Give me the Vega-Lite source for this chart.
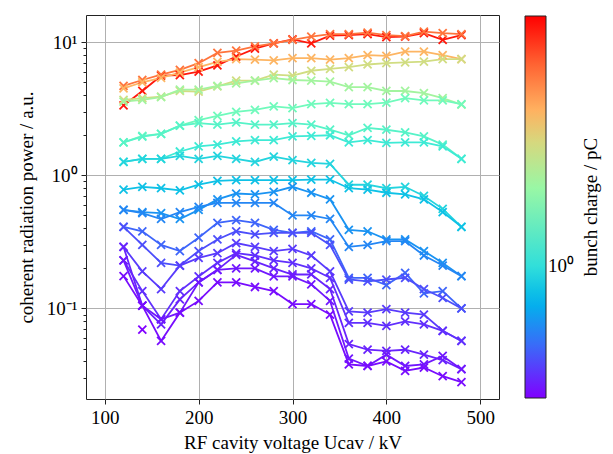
{
"$schema":"https://vega.github.io/schema/vega-lite/v6.json",
"autosize":"none",
"padding":{"left":86,"top":15,"right":114,"bottom":55},
"width":413,"height":384,
"background":"white",
"datasets":{"d":[
{"s":"S1","q":8.3,"x":120,"y":3.35},{"s":"S1","q":8.3,"x":140,"y":4.3},{"s":"S1","q":8.3,"x":160,"y":5.6},{"s":"S1","q":8.3,"x":180,"y":5.65},{"s":"S1","q":8.3,"x":200,"y":6.0},{"s":"S1","q":8.3,"x":220,"y":6.7},{"s":"S1","q":8.3,"x":240,"y":7.8},{"s":"S1","q":8.3,"x":260,"y":8.95},{"s":"S1","q":8.3,"x":280,"y":9.8},{"s":"S1","q":8.3,"x":300,"y":10.5},{"s":"S1","q":8.3,"x":320,"y":9.8},{"s":"S1","q":8.3,"x":340,"y":11.2},{"s":"S1","q":8.3,"x":360,"y":11.3},{"s":"S1","q":8.3,"x":380,"y":11.5},{"s":"S1","q":8.3,"x":400,"y":10.9},{"s":"S1","q":8.3,"x":420,"y":11.0},{"s":"S1","q":8.3,"x":440,"y":11.7},{"s":"S1","q":8.3,"x":460,"y":10.4},{"s":"S1","q":8.3,"x":480,"y":11.3},
{"s":"S2","q":5.5,"x":120,"y":4.7},{"s":"S2","q":5.5,"x":140,"y":5.2},{"s":"S2","q":5.5,"x":160,"y":5.7},{"s":"S2","q":5.5,"x":180,"y":6.2},{"s":"S2","q":5.5,"x":200,"y":6.95},{"s":"S2","q":5.5,"x":220,"y":8.3},{"s":"S2","q":5.5,"x":240,"y":8.65},{"s":"S2","q":5.5,"x":260,"y":9.3},{"s":"S2","q":5.5,"x":280,"y":9.8},{"s":"S2","q":5.5,"x":300,"y":10.4},{"s":"S2","q":5.5,"x":320,"y":11.0},{"s":"S2","q":5.5,"x":340,"y":11.5},{"s":"S2","q":5.5,"x":360,"y":11.5},{"s":"S2","q":5.5,"x":380,"y":11.8},{"s":"S2","q":5.5,"x":400,"y":11.3},{"s":"S2","q":5.5,"x":420,"y":11.1},{"s":"S2","q":5.5,"x":440,"y":12.0},{"s":"S2","q":5.5,"x":460,"y":11.7},{"s":"S2","q":5.5,"x":480,"y":11.5},
{"s":"S3","q":3.9,"x":120,"y":4.5},{"s":"S3","q":3.9,"x":140,"y":5.0},{"s":"S3","q":3.9,"x":160,"y":5.4},{"s":"S3","q":3.9,"x":180,"y":5.9},{"s":"S3","q":3.9,"x":200,"y":6.5},{"s":"S3","q":3.9,"x":220,"y":7.1},{"s":"S3","q":3.9,"x":240,"y":7.45},{"s":"S3","q":3.9,"x":260,"y":7.4},{"s":"S3","q":3.9,"x":280,"y":7.3},{"s":"S3","q":3.9,"x":300,"y":7.6},{"s":"S3","q":3.9,"x":320,"y":7.6},{"s":"S3","q":3.9,"x":340,"y":7.4},{"s":"S3","q":3.9,"x":360,"y":7.6},{"s":"S3","q":3.9,"x":380,"y":8.0},{"s":"S3","q":3.9,"x":400,"y":7.9},{"s":"S3","q":3.9,"x":420,"y":8.5},{"s":"S3","q":3.9,"x":440,"y":8.5},{"s":"S3","q":3.9,"x":460,"y":8.0},{"s":"S3","q":3.9,"x":480,"y":7.45},
{"s":"S4","q":2.9,"x":120,"y":3.69},{"s":"S4","q":2.9,"x":140,"y":3.8},{"s":"S4","q":2.9,"x":160,"y":3.9},{"s":"S4","q":2.9,"x":180,"y":4.3},{"s":"S4","q":2.9,"x":200,"y":4.25},{"s":"S4","q":2.9,"x":220,"y":4.65},{"s":"S4","q":2.9,"x":240,"y":5.15},{"s":"S4","q":2.9,"x":260,"y":5.15},{"s":"S4","q":2.9,"x":280,"y":5.7},{"s":"S4","q":2.9,"x":300,"y":5.6},{"s":"S4","q":2.9,"x":320,"y":6.1},{"s":"S4","q":2.9,"x":340,"y":6.3},{"s":"S4","q":2.9,"x":360,"y":6.5},{"s":"S4","q":2.9,"x":380,"y":6.8},{"s":"S4","q":2.9,"x":400,"y":6.95},{"s":"S4","q":2.9,"x":420,"y":7.05},{"s":"S4","q":2.9,"x":440,"y":7.15},{"s":"S4","q":2.9,"x":460,"y":7.45},{"s":"S4","q":2.9,"x":480,"y":7.45},
{"s":"S5","q":2.14,"x":120,"y":3.58},{"s":"S5","q":2.14,"x":140,"y":3.69},{"s":"S5","q":2.14,"x":160,"y":3.87},{"s":"S5","q":2.14,"x":180,"y":4.4},{"s":"S5","q":2.14,"x":200,"y":4.4},{"s":"S5","q":2.14,"x":220,"y":4.7},{"s":"S5","q":2.14,"x":240,"y":4.9},{"s":"S5","q":2.14,"x":260,"y":5.15},{"s":"S5","q":2.14,"x":280,"y":5.37},{"s":"S5","q":2.14,"x":300,"y":5.2},{"s":"S5","q":2.14,"x":320,"y":5.15},{"s":"S5","q":2.14,"x":340,"y":5.05},{"s":"S5","q":2.14,"x":360,"y":4.6},{"s":"S5","q":2.14,"x":380,"y":4.6},{"s":"S5","q":2.14,"x":400,"y":4.3},{"s":"S5","q":2.14,"x":420,"y":4.3},{"s":"S5","q":2.14,"x":440,"y":4.15},{"s":"S5","q":2.14,"x":460,"y":3.8},{"s":"S5","q":2.14,"x":480,"y":3.4},
{"s":"S6","q":1.52,"x":120,"y":1.77},{"s":"S6","q":1.52,"x":140,"y":1.98},{"s":"S6","q":1.52,"x":160,"y":2.05},{"s":"S6","q":1.52,"x":180,"y":2.36},{"s":"S6","q":1.52,"x":200,"y":2.6},{"s":"S6","q":1.52,"x":220,"y":2.8},{"s":"S6","q":1.52,"x":240,"y":3.0},{"s":"S6","q":1.52,"x":260,"y":3.1},{"s":"S6","q":1.52,"x":280,"y":3.3},{"s":"S6","q":1.52,"x":300,"y":3.2},{"s":"S6","q":1.52,"x":320,"y":3.43},{"s":"S6","q":1.52,"x":340,"y":3.5},{"s":"S6","q":1.52,"x":360,"y":3.43},{"s":"S6","q":1.52,"x":380,"y":3.43},{"s":"S6","q":1.52,"x":400,"y":3.52},{"s":"S6","q":1.52,"x":420,"y":3.8},{"s":"S6","q":1.52,"x":440,"y":3.65},{"s":"S6","q":1.52,"x":460,"y":3.65},{"s":"S6","q":1.52,"x":480,"y":3.43},
{"s":"S7","q":1.29,"x":120,"y":1.77},{"s":"S7","q":1.29,"x":140,"y":1.95},{"s":"S7","q":1.29,"x":160,"y":2.05},{"s":"S7","q":1.29,"x":180,"y":2.36},{"s":"S7","q":1.29,"x":200,"y":2.47},{"s":"S7","q":1.29,"x":220,"y":2.4},{"s":"S7","q":1.29,"x":240,"y":2.5},{"s":"S7","q":1.29,"x":260,"y":2.4},{"s":"S7","q":1.29,"x":280,"y":2.4},{"s":"S7","q":1.29,"x":300,"y":2.47},{"s":"S7","q":1.29,"x":320,"y":2.4},{"s":"S7","q":1.29,"x":340,"y":2.2},{"s":"S7","q":1.29,"x":360,"y":2.0},{"s":"S7","q":1.29,"x":380,"y":2.27},{"s":"S7","q":1.29,"x":400,"y":2.2},{"s":"S7","q":1.29,"x":420,"y":2.1},{"s":"S7","q":1.29,"x":440,"y":1.96},{"s":"S7","q":1.29,"x":460,"y":1.7},{"s":"S7","q":1.29,"x":480,"y":1.33},
{"s":"S8","q":1.09,"x":120,"y":1.26},{"s":"S8","q":1.09,"x":140,"y":1.33},{"s":"S8","q":1.09,"x":160,"y":1.33},{"s":"S8","q":1.09,"x":180,"y":1.51},{"s":"S8","q":1.09,"x":200,"y":1.65},{"s":"S8","q":1.09,"x":220,"y":1.7},{"s":"S8","q":1.09,"x":240,"y":1.8},{"s":"S8","q":1.09,"x":260,"y":1.84},{"s":"S8","q":1.09,"x":280,"y":1.84},{"s":"S8","q":1.09,"x":300,"y":1.96},{"s":"S8","q":1.09,"x":320,"y":1.98},{"s":"S8","q":1.09,"x":340,"y":2.0},{"s":"S8","q":1.09,"x":360,"y":1.77},{"s":"S8","q":1.09,"x":380,"y":1.84},{"s":"S8","q":1.09,"x":400,"y":1.75},{"s":"S8","q":1.09,"x":420,"y":1.77},{"s":"S8","q":1.09,"x":440,"y":1.77},{"s":"S8","q":1.09,"x":460,"y":1.65},{"s":"S8","q":1.09,"x":480,"y":1.33},
{"s":"S9","q":0.92,"x":120,"y":1.26},{"s":"S9","q":0.92,"x":140,"y":1.33},{"s":"S9","q":0.92,"x":160,"y":1.33},{"s":"S9","q":0.92,"x":180,"y":1.4},{"s":"S9","q":0.92,"x":200,"y":1.33},{"s":"S9","q":0.92,"x":220,"y":1.4},{"s":"S9","q":0.92,"x":240,"y":1.33},{"s":"S9","q":0.92,"x":260,"y":1.26},{"s":"S9","q":0.92,"x":280,"y":1.38},{"s":"S9","q":0.92,"x":300,"y":1.3},{"s":"S9","q":0.92,"x":320,"y":1.24},{"s":"S9","q":0.92,"x":340,"y":1.22},{"s":"S9","q":0.92,"x":360,"y":0.85},{"s":"S9","q":0.92,"x":380,"y":0.85},{"s":"S9","q":0.92,"x":400,"y":0.8},{"s":"S9","q":0.92,"x":420,"y":0.82},{"s":"S9","q":0.92,"x":440,"y":0.7},{"s":"S9","q":0.92,"x":460,"y":0.56},{"s":"S9","q":0.92,"x":480,"y":0.41},
{"s":"S10","q":0.8,"x":120,"y":0.78},{"s":"S10","q":0.8,"x":140,"y":0.82},{"s":"S10","q":0.8,"x":160,"y":0.8},{"s":"S10","q":0.8,"x":180,"y":0.77},{"s":"S10","q":0.8,"x":200,"y":0.85},{"s":"S10","q":0.8,"x":220,"y":0.91},{"s":"S10","q":0.8,"x":240,"y":0.92},{"s":"S10","q":0.8,"x":260,"y":0.92},{"s":"S10","q":0.8,"x":280,"y":0.92},{"s":"S10","q":0.8,"x":300,"y":0.92},{"s":"S10","q":0.8,"x":320,"y":0.93},{"s":"S10","q":0.8,"x":340,"y":0.93},{"s":"S10","q":0.8,"x":360,"y":0.8},{"s":"S10","q":0.8,"x":380,"y":0.78},{"s":"S10","q":0.8,"x":400,"y":0.74},{"s":"S10","q":0.8,"x":420,"y":0.72},{"s":"S10","q":0.8,"x":440,"y":0.66},{"s":"S10","q":0.8,"x":460,"y":0.53},{"s":"S10","q":0.8,"x":480,"y":0.41},
{"s":"S11","q":0.61,"x":120,"y":0.55},{"s":"S11","q":0.61,"x":140,"y":0.53},{"s":"S11","q":0.61,"x":160,"y":0.52},{"s":"S11","q":0.61,"x":180,"y":0.47},{"s":"S11","q":0.61,"x":200,"y":0.55},{"s":"S11","q":0.61,"x":220,"y":0.66},{"s":"S11","q":0.61,"x":240,"y":0.73},{"s":"S11","q":0.61,"x":260,"y":0.72},{"s":"S11","q":0.61,"x":280,"y":0.75},{"s":"S11","q":0.61,"x":300,"y":0.82},{"s":"S11","q":0.61,"x":320,"y":0.74},{"s":"S11","q":0.61,"x":340,"y":0.66},{"s":"S11","q":0.61,"x":360,"y":0.39},{"s":"S11","q":0.61,"x":380,"y":0.38},{"s":"S11","q":0.61,"x":400,"y":0.33},{"s":"S11","q":0.61,"x":420,"y":0.33},{"s":"S11","q":0.61,"x":440,"y":0.27},{"s":"S11","q":0.61,"x":460,"y":0.22},{"s":"S11","q":0.61,"x":480,"y":0.175},
{"s":"S12","q":0.57,"x":120,"y":0.55},{"s":"S12","q":0.57,"x":140,"y":0.52},{"s":"S12","q":0.57,"x":160,"y":0.47},{"s":"S12","q":0.57,"x":180,"y":0.53},{"s":"S12","q":0.57,"x":200,"y":0.58},{"s":"S12","q":0.57,"x":220,"y":0.62},{"s":"S12","q":0.57,"x":240,"y":0.62},{"s":"S12","q":0.57,"x":260,"y":0.62},{"s":"S12","q":0.57,"x":280,"y":0.62},{"s":"S12","q":0.57,"x":300,"y":0.5},{"s":"S12","q":0.57,"x":320,"y":0.5},{"s":"S12","q":0.57,"x":340,"y":0.47},{"s":"S12","q":0.57,"x":360,"y":0.29},{"s":"S12","q":0.57,"x":380,"y":0.3},{"s":"S12","q":0.57,"x":400,"y":0.32},{"s":"S12","q":0.57,"x":420,"y":0.32},{"s":"S12","q":0.57,"x":440,"y":0.25},{"s":"S12","q":0.57,"x":460,"y":0.21},{"s":"S12","q":0.57,"x":480,"y":0.175},
{"s":"S13","q":0.48,"x":120,"y":0.41},{"s":"S13","q":0.48,"x":140,"y":0.38},{"s":"S13","q":0.48,"x":160,"y":0.3},{"s":"S13","q":0.48,"x":180,"y":0.27},{"s":"S13","q":0.48,"x":200,"y":0.34},{"s":"S13","q":0.48,"x":220,"y":0.44},{"s":"S13","q":0.48,"x":240,"y":0.46},{"s":"S13","q":0.48,"x":260,"y":0.44},{"s":"S13","q":0.48,"x":280,"y":0.39},{"s":"S13","q":0.48,"x":300,"y":0.37},{"s":"S13","q":0.48,"x":320,"y":0.38},{"s":"S13","q":0.48,"x":340,"y":0.33},{"s":"S13","q":0.48,"x":360,"y":0.17},{"s":"S13","q":0.48,"x":380,"y":0.17},{"s":"S13","q":0.48,"x":400,"y":0.15},{"s":"S13","q":0.48,"x":420,"y":0.185},{"s":"S13","q":0.48,"x":440,"y":0.13},{"s":"S13","q":0.48,"x":460,"y":0.135},{"s":"S13","q":0.48,"x":480,"y":0.1},
{"s":"S14","q":0.435,"x":120,"y":0.41},{"s":"S14","q":0.435,"x":140,"y":0.3},{"s":"S14","q":0.435,"x":160,"y":0.22},{"s":"S14","q":0.435,"x":180,"y":0.21},{"s":"S14","q":0.435,"x":200,"y":0.27},{"s":"S14","q":0.435,"x":220,"y":0.33},{"s":"S14","q":0.435,"x":240,"y":0.38},{"s":"S14","q":0.435,"x":260,"y":0.36},{"s":"S14","q":0.435,"x":280,"y":0.37},{"s":"S14","q":0.435,"x":300,"y":0.37},{"s":"S14","q":0.435,"x":320,"y":0.37},{"s":"S14","q":0.435,"x":340,"y":0.3},{"s":"S14","q":0.435,"x":360,"y":0.165},{"s":"S14","q":0.435,"x":380,"y":0.16},{"s":"S14","q":0.435,"x":400,"y":0.165},{"s":"S14","q":0.435,"x":420,"y":0.17},{"s":"S14","q":0.435,"x":440,"y":0.14},{"s":"S14","q":0.435,"x":460,"y":0.12},{"s":"S14","q":0.435,"x":480,"y":0.1},
{"s":"V5","q":0.4,"x":120,"y":0.29},{"s":"V5","q":0.4,"x":140,"y":0.19},{"s":"V5","q":0.4,"x":160,"y":0.14},{"s":"V5","q":0.4,"x":180,"y":0.21},{"s":"V5","q":0.4,"x":200,"y":0.24},{"s":"V5","q":0.4,"x":220,"y":0.26},{"s":"V5","q":0.4,"x":240,"y":0.31},{"s":"V5","q":0.4,"x":260,"y":0.29},{"s":"V5","q":0.4,"x":280,"y":0.27},{"s":"V5","q":0.4,"x":300,"y":0.28},{"s":"V5","q":0.4,"x":320,"y":0.25},{"s":"V5","q":0.4,"x":340,"y":0.19},{"s":"V5","q":0.4,"x":360,"y":0.095},{"s":"V5","q":0.4,"x":380,"y":0.093},{"s":"V5","q":0.4,"x":400,"y":0.099},{"s":"V5","q":0.4,"x":420,"y":0.093},{"s":"V5","q":0.4,"x":440,"y":0.09},{"s":"V5","q":0.4,"x":460,"y":0.068},{"s":"V5","q":0.4,"x":480,"y":0.057},
{"s":"V4","q":0.38,"x":120,"y":0.23},{"s":"V4","q":0.38,"x":140,"y":0.135},{"s":"V4","q":0.38,"x":160,"y":0.083},{"s":"V4","q":0.38,"x":180,"y":0.135},{"s":"V4","q":0.38,"x":200,"y":0.174},{"s":"V4","q":0.38,"x":220,"y":0.22},{"s":"V4","q":0.38,"x":240,"y":0.26},{"s":"V4","q":0.38,"x":260,"y":0.25},{"s":"V4","q":0.38,"x":280,"y":0.23},{"s":"V4","q":0.38,"x":300,"y":0.22},{"s":"V4","q":0.38,"x":320,"y":0.2},{"s":"V4","q":0.38,"x":340,"y":0.17},{"s":"V4","q":0.38,"x":360,"y":0.078},{"s":"V4","q":0.38,"x":380,"y":0.078},{"s":"V4","q":0.38,"x":400,"y":0.074},{"s":"V4","q":0.38,"x":420,"y":0.08},{"s":"V4","q":0.38,"x":440,"y":0.076},{"s":"V4","q":0.38,"x":460,"y":0.068},{"s":"V4","q":0.38,"x":480,"y":0.057},
{"s":"V3","q":0.36,"x":120,"y":0.29},{"s":"V3","q":0.36,"x":140,"y":0.105},{"s":"V3","q":0.36,"x":160,"y":0.076},{"s":"V3","q":0.36,"x":180,"y":0.117},{"s":"V3","q":0.36,"x":200,"y":0.157},{"s":"V3","q":0.36,"x":220,"y":0.195},{"s":"V3","q":0.36,"x":240,"y":0.253},{"s":"V3","q":0.36,"x":260,"y":0.226},{"s":"V3","q":0.36,"x":280,"y":0.2},{"s":"V3","q":0.36,"x":300,"y":0.18},{"s":"V3","q":0.36,"x":320,"y":0.18},{"s":"V3","q":0.36,"x":340,"y":0.14},{"s":"V3","q":0.36,"x":360,"y":0.054},{"s":"V3","q":0.36,"x":380,"y":0.049},{"s":"V3","q":0.36,"x":400,"y":0.048},{"s":"V3","q":0.36,"x":420,"y":0.049},{"s":"V3","q":0.36,"x":440,"y":0.045},{"s":"V3","q":0.36,"x":460,"y":0.041},{"s":"V3","q":0.36,"x":480,"y":0.035},
{"s":"V2","q":0.343,"x":120,"y":0.23},{"s":"V2","q":0.343,"x":140,"y":0.105},{"s":"V2","q":0.343,"x":160,"y":0.083},{"s":"V2","q":0.343,"x":180,"y":0.093},{"s":"V2","q":0.343,"x":200,"y":0.157},{"s":"V2","q":0.343,"x":220,"y":0.195},{"s":"V2","q":0.343,"x":240,"y":0.2},{"s":"V2","q":0.343,"x":260,"y":0.2},{"s":"V2","q":0.343,"x":280,"y":0.174},{"s":"V2","q":0.343,"x":300,"y":0.174},{"s":"V2","q":0.343,"x":320,"y":0.152},{"s":"V2","q":0.343,"x":340,"y":0.114},{"s":"V2","q":0.343,"x":360,"y":0.042},{"s":"V2","q":0.343,"x":380,"y":0.037},{"s":"V2","q":0.343,"x":400,"y":0.045},{"s":"V2","q":0.343,"x":420,"y":0.037},{"s":"V2","q":0.343,"x":440,"y":0.038},{"s":"V2","q":0.343,"x":460,"y":0.044},{"s":"V2","q":0.343,"x":480,"y":0.035},
{"s":"V1","q":0.326,"x":120,"y":0.175},{"s":"V1","q":0.326,"x":140,"y":0.105},{"s":"V1","q":0.326,"x":160,"y":0.057},{"s":"V1","q":0.326,"x":180,"y":0.093},{"s":"V1","q":0.326,"x":200,"y":0.114},{"s":"V1","q":0.326,"x":220,"y":0.157},{"s":"V1","q":0.326,"x":240,"y":0.157},{"s":"V1","q":0.326,"x":260,"y":0.145},{"s":"V1","q":0.326,"x":280,"y":0.135},{"s":"V1","q":0.326,"x":300,"y":0.108},{"s":"V1","q":0.326,"x":320,"y":0.108},{"s":"V1","q":0.326,"x":340,"y":0.09},{"s":"V1","q":0.326,"x":360,"y":0.038},{"s":"V1","q":0.326,"x":380,"y":0.037},{"s":"V1","q":0.326,"x":400,"y":0.04},{"s":"V1","q":0.326,"x":420,"y":0.034},{"s":"V1","q":0.326,"x":440,"y":0.036},{"s":"V1","q":0.326,"x":460,"y":0.031},{"s":"V1","q":0.326,"x":480,"y":0.028},
{"s":"V0","q":0.31,"x":140,"y":0.0695}
]},
"data":{"name":"d"},
"layer":[
{"mark":{"type":"line","strokeWidth":1.8,"clip":true},
"encoding":{"detail":{"field":"s"},
"x":{"field":"x","type":"quantitative","scale":{"domain":[80,520],"nice":false,"zero":false},"axis":{"values":[100,200,300,400,500],"grid":true,"title":"RF cavity voltage Ucav / kV","tickSize":5,"labelPadding":4,"titlePadding":6}},
"y":{"field":"y","type":"quantitative","scale":{"type":"log","domain":[0.0209,16.0],"nice":false},"axis":{"orient":"left","values":[0.1,1,10],"labelExpr":"datum.value==10?'10¹':datum.value==1?'10⁰':'10⁻¹'","grid":true,"tickSize":5,"labelPadding":4,"title":"coherent radiation power / a.u.","titlePadding":10}},
"color":{"field":"q","type":"quantitative","scale":{"type":"log","interpolate":"rgb","domain":[0.31,0.4735,0.7234,1.105,1.689,2.58,3.942,6.022,9.2],"range":["#8000ff","#4062fa","#00b4ec","#40ecd4","#80ffb4","#bfec8e","#ffb462","#ff6232","#ff0000"]},"legend":{"orient":"none","legendX":439,"legendY":1,"direction":"vertical","gradientLength":382,"gradientThickness":21,"values":[1],"labelExpr":"'10⁰'","title":"bunch charge / pC","titleOrient":"right","titleAnchor":"middle","titlePadding":12,"encode":{"title":{"update":{"angle":{"value":-90},"dy":{"value":15}}}}}}}},
{"mark":{"type":"point","shape":"M-1,-1L1,1M-1,1L1,-1","filled":false,"size":64,"strokeWidth":1.8,"opacity":1,"clip":true},
"encoding":{
"x":{"field":"x","type":"quantitative","scale":{"domain":[80,520],"nice":false,"zero":false},"axis":{"values":[100,200,300,400,500],"grid":true,"title":"RF cavity voltage Ucav / kV","tickSize":5,"labelPadding":4,"titlePadding":6}},
"y":{"field":"y","type":"quantitative","scale":{"type":"log","domain":[0.0209,16.0],"nice":false},"axis":{"orient":"left","values":[0.03,0.04,0.05,0.06,0.07,0.08,0.09,0.2,0.3,0.4,0.5,0.6,0.7,0.8,0.9,2,3,4,5,6,7,8,9],"labels":false,"grid":false,"tickSize":3,"title":null,"domain":false}},
"color":{"field":"q","type":"quantitative","legend":null}}}
],
"resolve":{"axis":{"y":"independent"}},
"config":{
"font":"Liberation Serif",
"view":{"stroke":"#222","strokeWidth":1},
"axis":{"labelFont":"Liberation Serif","titleFont":"Liberation Serif","labelFontSize":19,"titleFontSize":19,"titleFontWeight":"normal","labelColor":"#000","titleColor":"#000","tickColor":"#222","domain":false,"gridColor":"#b0b0b0","gridWidth":1},
"legend":{"labelFont":"Liberation Serif","titleFont":"Liberation Serif","labelFontSize":19,"titleFontSize":19,"titleFontWeight":"normal","labelColor":"#000","titleColor":"#000","gradientStrokeColor":"#222","gradientStrokeWidth":1}
}
}
